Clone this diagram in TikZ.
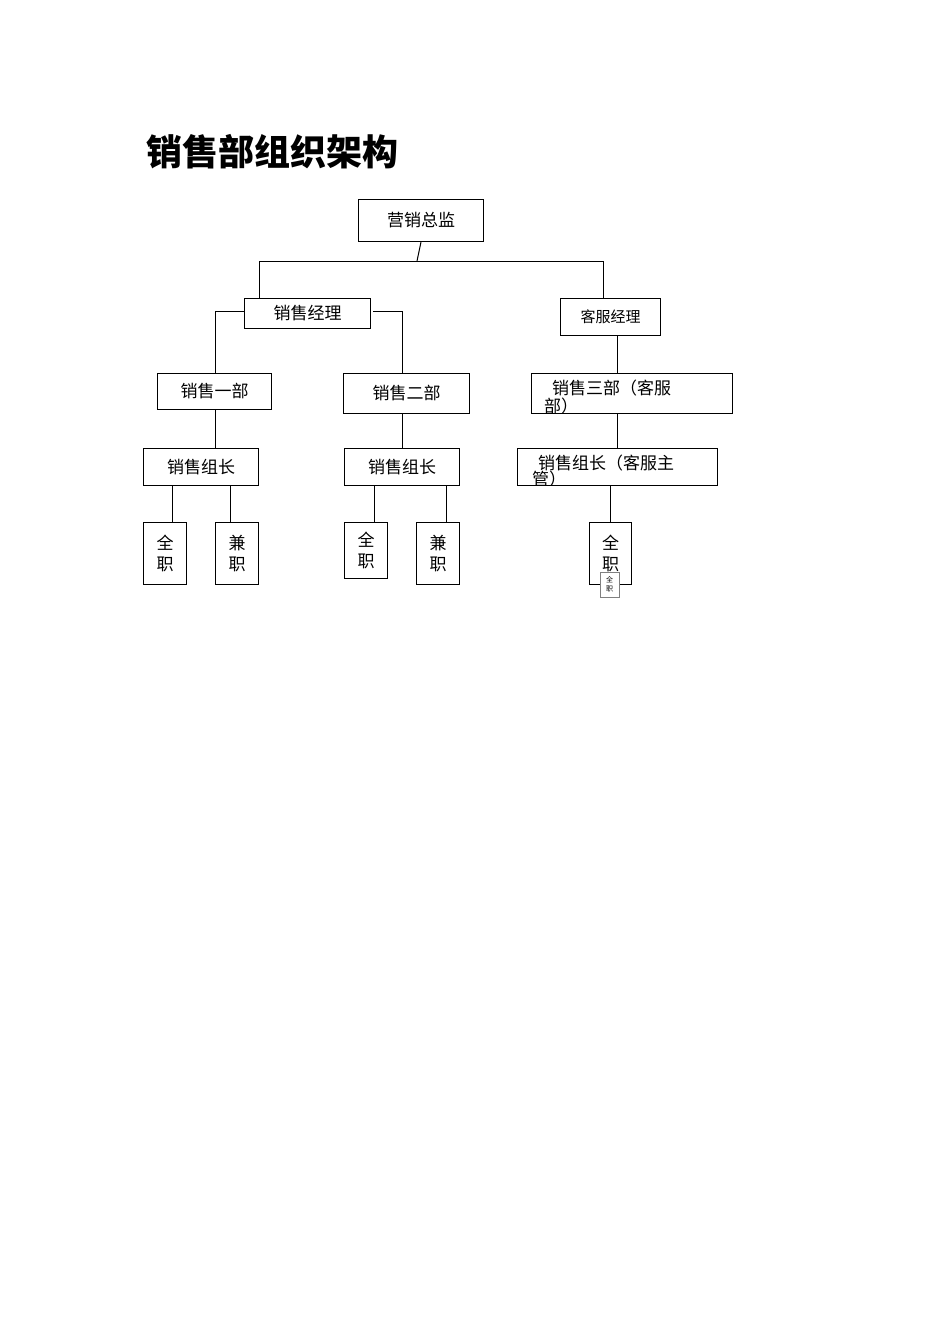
\documentclass[tikz,border=0pt]{standalone}
\usepackage{fontspec}
\setmainfont{Noto Sans CJK SC}
\begin{document}
\begin{tikzpicture}[x=1pt,y=-1pt,
  box/.style={draw,line width=1pt,inner sep=0pt,anchor=north west,font=\fontsize{17}{20}\selectfont},
  ln/.style={line width=1pt}]
\useasboundingbox (0,0) rectangle (950,1344);
\node[anchor=west,font=\fontsize{36}{40}\selectfont\bfseries] (title) at (143,152) {销售部组织架构};
\node[box,minimum width=125pt,minimum height=42pt] (top) at (358,199) {营销总监};
\node[box,minimum width=126pt,minimum height=30pt] (xsjl) at (244,298) {销售经理};
\node[box,minimum width=100pt,minimum height=37pt,font=\fontsize{15}{18}\selectfont] (kfjl) at (560,298) {客服经理};
\node[box,minimum width=114pt,minimum height=36pt] (b1) at (157,373) {销售一部};
\node[box,minimum width=126pt,minimum height=40pt] (b2) at (343,373) {销售二部};
\node[box,minimum width=201pt,minimum height=40pt] (b3) at (531,373) {};
\begin{scope}
\clip (532,374) rectangle (731,412);
\node[anchor=north west,inner sep=0pt,font=\fontsize{17}{20}\selectfont,text width=150pt] (b3t) at (552,380) {销售三部（客服\\[-2pt]\hspace*{-8pt}部）};
\end{scope}
\node[box,minimum width=115pt,minimum height=37pt] (g1) at (143,448) {销售组长};
\node[box,minimum width=115pt,minimum height=37pt] (g2) at (344,448) {销售组长};
\node[box,minimum width=200pt,minimum height=37pt] (g3) at (517,448) {};
\begin{scope}
\clip (518,449) rectangle (716,484);
\node[anchor=north west,inner sep=0pt,font=\fontsize{17}{20}\selectfont,text width=170pt] (g3t) at (538,455) {销售组长（客服主\\[-4pt]\hspace*{-6pt}管）};
\end{scope}
\tikzset{tall/.style={box,minimum width=43pt,align=center,font=\fontsize{17}{21}\selectfont}}
\node[tall,minimum height=62pt] (q1) at (143,522) {全\\职};
\node[tall,minimum height=62pt] (j1) at (215,522) {兼\\职};
\node[tall,minimum height=56pt] (q2) at (344,522) {全\\职};
\node[tall,minimum height=62pt] (j2) at (416,522) {兼\\职};
\node[tall,minimum width=42pt,minimum height=62pt] (q3) at (589,522) {全\\职};
\node[draw=gray,fill=white,inner sep=0pt,anchor=north west,minimum width=19pt,minimum height=25pt,align=center,font=\fontsize{7}{9}\selectfont] (q3s) at (600,572) {全\\职};
\coordinate (h) at (417,261);
\draw[ln] (top.south) -- (h);
\draw[ln] (xsjl.north -| 259,0) -- (259,261) -- (603,261) -- (kfjl.north -| 603,0);
\draw[ln] (xsjl.west |- 0,311) -- (215,311) -- (b1.north -| 215,0);
\draw[ln] (373,311) -- (402,311) -- (b2.north -| 402,0);
\draw[ln] (kfjl.south -| 617,0) -- (b3.north -| 617,0);
\draw[ln] (b1.south -| 215,0) -- (g1.north -| 215,0);
\draw[ln] (b2.south -| 402,0) -- (g2.north -| 402,0);
\draw[ln] (b3.south -| 617,0) -- (g3.north -| 617,0);
\draw[ln] (g1.south -| 172,0) -- (q1.north -| 172,0);
\draw[ln] (g1.south -| 230,0) -- (j1.north -| 230,0);
\draw[ln] (g2.south -| 374,0) -- (q2.north -| 374,0);
\draw[ln] (g2.south -| 446,0) -- (j2.north -| 446,0);
\draw[ln] (g3.south -| 610,0) -- (q3.north -| 610,0);
\end{tikzpicture}
\end{document}
